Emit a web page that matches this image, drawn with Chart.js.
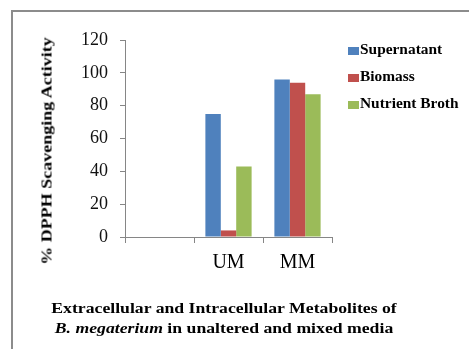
<!DOCTYPE html>
<html>
<head>
<meta charset="utf-8">
<script src="https://cdn.jsdelivr.net/npm/chart.js@4/dist/chart.umd.min.js"></script>
<style>
  html, body { margin: 0; padding: 0; background: #fff; }
  #wrap { position: relative; width: 469px; height: 349px; overflow: hidden; font-family: "Liberation Serif", "Times New Roman", serif; }
  #frame { position: absolute; left: 11px; top: 10px; width: 470px; height: 360px;
           border-left: 2px solid #8c8c8c; border-top: 2px solid #8c8c8c; }
  #chart { position: absolute; left: 0; top: 0; }
  #ytitle { position: absolute; left: 46px; top: 151px; width: 0; height: 0; }
  #ytitle span { position: absolute; left: 0; top: 0; white-space: nowrap; font-weight: bold; font-size: 18px; line-height: 18px;
                 transform: translate(-50%, -50%) rotate(-90deg) scaleY(0.85); color: #000; }
  #legend { position: absolute; left: 348px; top: 44px; }
  .item { position: relative; height: 27px; white-space: nowrap; font-weight: bold; font-size: 14px; color: #000; }
  .sw { position: absolute; left: 0; top: 3px; width: 11px; height: 8px; }
  .lt { position: absolute; left: 12px; top: -2px; line-height: 16px; transform: scaleX(1.1); transform-origin: left center; }
  #caption { position: absolute; left: 24px; width: 400px; top: 298px; text-align: center;
             font-weight: bold; font-size: 15px; line-height: 20px; color: #000;
             transform: scaleX(1.18); transform-origin: 200px 0; }
</style>
</head>
<body>
<div id="wrap">
  <div id="frame"></div>
  <canvas id="chart" width="469" height="349"></canvas>
  <div id="ytitle"><span>% DPPH Scavenging Activity</span></div>
  <div id="legend"></div>
  <div id="caption">Extracellular and Intracellular Metabolites of<br><i>B. megaterium</i> in unaltered and mixed media</div>
</div>
<script>
// Media groups on the x axis (the first slot is left empty)
const categories = ['', 'UM', 'MM'];

// % DPPH scavenging activity per fraction
const supernatant = [null, 75, 96];
const biomass = [null, 4, 94];
const nutrientBroth = [null, 43, 87];

const seriesNames = ['Supernatant', 'Biomass', 'Nutrient Broth'];
const seriesColors = ['#4F81BD', '#C0504D', '#9BBB59'];

const yTicks = [0, 20, 40, 60, 80, 100, 120];

const axisGray = '#868686';
const serif = '"Liberation Serif", "Times New Roman", serif';

const chart = new Chart(document.getElementById('chart'), {
  type: 'bar',
  data: {
    labels: categories,
    datasets: [supernatant, biomass, nutrientBroth].map((d, i) => ({
      label: seriesNames[i],
      data: d,
      backgroundColor: seriesColors[i],
      borderWidth: 0,
      categoryPercentage: 0.67,
      barPercentage: 1.0
    }))
  },
  options: {
    responsive: false,
    animation: false,
    layout: { padding: { left: 30, top: 40, right: 137, bottom: 72 } },
    plugins: {
      legend: { display: false },
      tooltip: { enabled: false }
    },
    scales: {
      x: {
        afterFit(scale) { scale.height = 40; },
        grid: { drawOnChartArea: false, drawTicks: true, tickLength: 6, color: axisGray, offset: true },
        border: { color: axisGray, width: 1 },
        ticks: { color: '#000', padding: 8, font: { family: serif, size: 20 } }
      },
      y: {
        min: 0,
        max: 120,
        afterFit(scale) { scale.width = 95; },
        afterBuildTicks(scale) { scale.ticks = yTicks.map(v => ({ value: v })); },
        grid: { drawOnChartArea: false, drawTicks: true, tickLength: 5, color: axisGray },
        border: { color: axisGray, width: 1 },
        ticks: { color: '#111', padding: 12, font: { family: serif, size: 18 } }
      }
    }
  }
});

// Legend beside the plot, built from the series names and colours
const legend = document.getElementById('legend');
seriesNames.forEach((name, i) => {
  const item = document.createElement('div');
  item.className = 'item';
  item.innerHTML = '<span class="sw" style="background:' + seriesColors[i] + '"></span><span class="lt">' + name + '</span>';
  legend.appendChild(item);
});
</script>
</body>
</html>
